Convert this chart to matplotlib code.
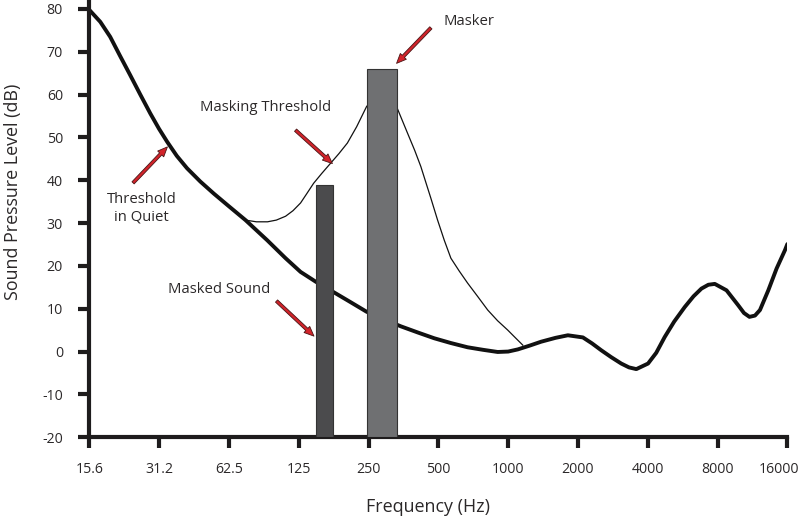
import matplotlib
matplotlib.use("Agg")
import matplotlib.pyplot as plt
import matplotlib.transforms as mtransforms

plt.rcParams['font.family'] = ['Open Sans', 'DejaVu Sans']
plt.rcParams['axes.unicode_minus'] = False

# threshold in quiet (Hz, dB)
quiet_freq = [15.6, 17.4, 19.2, 21.2, 23.4, 25.9, 28.6, 31.2, 33.8, 37.2, 41.2,
              47.0, 53.7, 62.5, 73.6, 91.3, 109.6, 127.2, 148, 175, 208, 245,
              292, 344, 410, 480, 565, 668, 780, 901, 1000, 1100, 1240, 1387,
              1600, 1809, 2100, 2300, 2520, 2780, 3073, 3320, 3570, 4011, 4350,
              4733, 5200, 5775, 6300, 6815, 7300, 7782, 8745, 9822, 10400,
              10980, 11600, 12190, 13240, 14380, 15630, 16000]
quiet_db = [79.8, 77.0, 73.5, 69.0, 64.6, 60.0, 55.6, 52.0, 49.0, 45.7, 42.8,
            39.7, 36.9, 33.9, 30.7, 26.0, 21.8, 18.6, 16.3, 14.0, 11.6, 9.3,
            7.5, 5.9, 4.4, 3.1, 2.0, 1.0, 0.4, -0.1, 0.0, 0.5, 1.4, 2.3,
            3.2, 3.8, 3.3, 1.9, 0.3, -1.3, -2.8, -3.7, -4.1, -2.8, -0.3,
            3.4, 7.0, 10.4, 12.9, 14.7, 15.6, 15.8, 14.3, 10.8, 9.0,
            8.1, 8.4, 9.7, 14.3, 19.4, 23.7, 25.1]

# masking threshold (Hz, dB)
mask_freq = [73.6, 82.0, 91.6, 100.0, 109.6, 118.0, 127.2, 135.0, 144.8, 157.0,
             171.5, 186.0, 202.5, 222.0, 245.4, 285, 330, 368, 395, 420, 442,
             464, 496, 530, 566, 615, 668, 740, 816, 900, 996, 1075, 1156]
mask_db = [30.7, 30.3, 30.3, 30.7, 31.6, 32.9, 34.7, 36.8, 39.3, 41.6,
           44.0, 46.2, 48.7, 52.5, 57.3, 59.4, 57.2, 51.0, 47.0, 43.2, 39.4,
           35.8, 30.7, 26.0, 21.8, 18.8, 16.0, 12.8, 9.7, 7.2, 5.0, 3.2, 1.5]

# bars: left edge, right edge (Hz), top (dB)
bar_names = ['Masked Sound', 'Masker']
bar_lo = [148, 245]
bar_hi = [175, 330]
bar_top = [39, 66]
bar_colors = ['#4b4b4d', '#6f7072']

x_ticks = [15.6, 31.2, 62.5, 125, 250, 500, 1000, 2000, 4000, 8000, 16000]
x_labels = ['15.6', '31.2', '62.5', '125', '250', '500', '1000', '2000', '4000', '8000', '16000']
y_ticks = [-20, -10, 0, 10, 20, 30, 40, 50, 60, 70, 80]

txt = '#2b2829'
fig = plt.figure(figsize=(8, 5.18), dpi=100)
ax = fig.add_axes([0.1116, 0.156, 0.8726, 0.844])

ax.plot(quiet_freq, quiet_db, color='#111111', lw=2.8, solid_capstyle='round',
        solid_joinstyle='round', zorder=2)
ax.plot(mask_freq, mask_db, color='#111111', lw=0.9, solid_joinstyle='round', zorder=2)
for lo, hi, top, c in zip(bar_lo, bar_hi, bar_top, bar_colors):
    ax.bar(lo, top + 20, width=hi - lo, bottom=-20, align='edge',
           color=c, edgecolor='#333333', lw=0.8, zorder=3)

ax.set_xscale('log', base=2)
ax.set_xlim(15.6, 16000)
ax.set_ylim(-20, 82.1)
ax.set_xticks(x_ticks)
ax.set_xticklabels(x_labels)
ax.minorticks_off()
ax.set_yticks(y_ticks)

for s in ['top', 'right']:
    ax.spines[s].set_visible(False)
for s in ['left', 'bottom']:
    ax.spines[s].set_linewidth(3)
    ax.spines[s].set_color('#1e1c1d')
ax.tick_params(axis='both', length=8, width=3, color='#1e1c1d',
               labelsize=10.2, labelcolor=txt, pad=10)
ax.tick_params(axis='y', pad=11)

# last tick label sits a little left of its tick
last = ax.get_xticklabels()[-1]
last.set_transform(last.get_transform() +
                   mtransforms.ScaledTranslation(-8 / 100, 0, fig.dpi_scale_trans))

ax.set_xlabel('Frequency (Hz)', fontsize=12.9, color=txt)
ax.xaxis.set_label_coords(0.485, -0.138)
ax.set_ylabel('Sound Pressure Level (dB)', fontsize=12.9, color=txt)
ax.yaxis.set_label_coords(-0.097, 0.561)

arrow = dict(arrowstyle='simple,head_length=0.7,head_width=0.6,tail_width=0.22',
             fc='#d2232a', ec='#4a1515', lw=0.6, shrinkA=0, shrinkB=0)
fs = 10.7
ax.text(677, 77.0, 'Masker', ha='center', va='center', fontsize=fs, color=txt)
ax.annotate('', xy=(330, 67.3), xytext=(464, 75.6), arrowprops=arrow, zorder=5)
ax.text(89.4, 56.9, 'Masking Threshold', ha='center', va='center', fontsize=fs, color=txt)
ax.annotate('', xy=(174.5, 43.9), xytext=(121, 51.7), arrowprops=arrow, zorder=5)
ax.text(26.3, 33.5, 'Threshold\nin Quiet', ha='center', va='center', fontsize=fs,
        color=txt, linespacing=1.25)
ax.annotate('', xy=(33.9, 47.8), xytext=(24.1, 39.4), arrowprops=arrow, zorder=5)
ax.text(56.8, 14.6, 'Masked Sound', ha='center', va='center', fontsize=fs, color=txt)
ax.annotate('', xy=(145.3, 3.6), xytext=(100.2, 11.8), arrowprops=arrow, zorder=5)

fig.savefig('out.png', dpi=100)
